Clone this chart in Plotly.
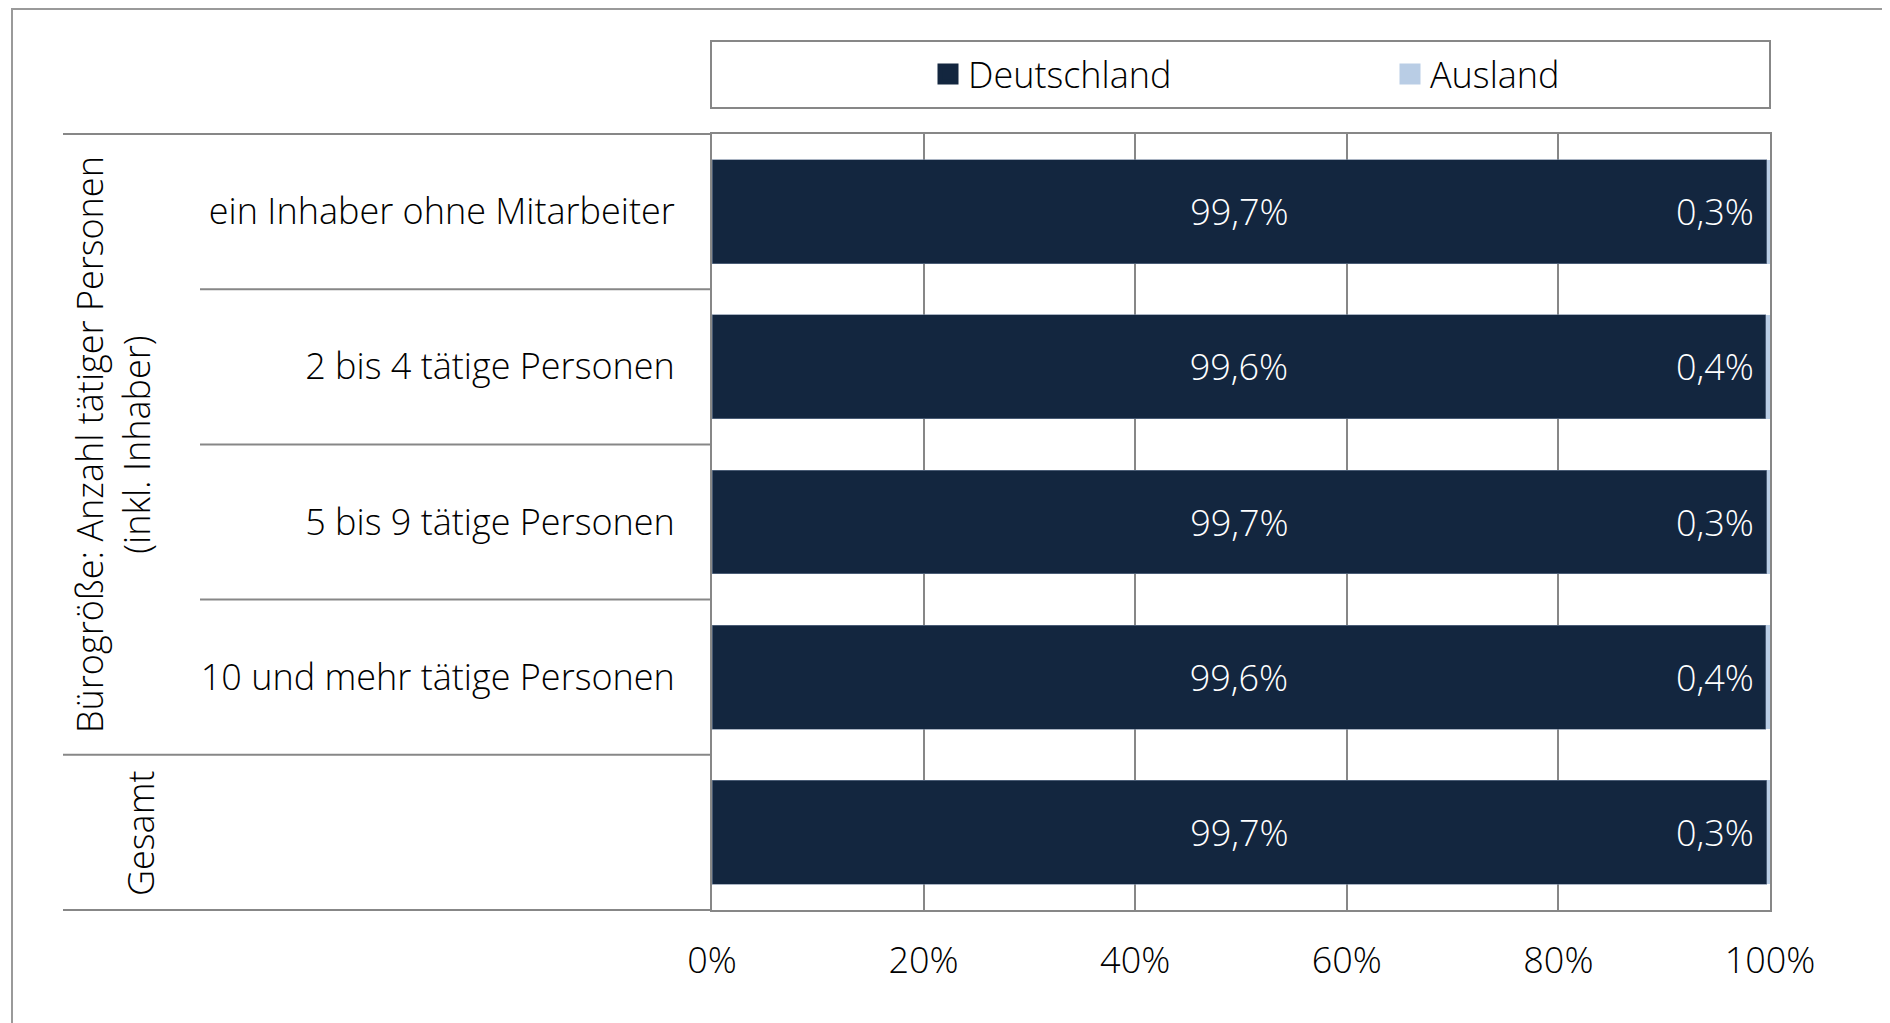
import plotly.graph_objects as go

# data
categories = ["ein Inhaber ohne Mitarbeiter", "2 bis 4 tätige Personen", "5 bis 9 tätige Personen",
              "10 und mehr tätige Personen", "Gesamt"]
tick_labels = ["ein Inhaber ohne Mitarbeiter", "2 bis 4 tätige Personen", "5 bis 9 tätige Personen",
               "10 und mehr tätige Personen", ""]
deutschland = [99.7, 99.6, 99.7, 99.6, 99.7]
ausland = [0.3, 0.4, 0.3, 0.4, 0.3]
x_ticks = [0, 20, 40, 60, 80, 100]
x_tick_labels = ["0%", "20%", "40%", "60%", "80%", "100%"]
group_labels = ["Bürogröße: Anzahl tätiger Personen<br>(inkl. Inhaber)", "Gesamt"]

W, H = 1890, 1023
# page has an 8px body margin, so everything is placed 8px up/left
L, R, T, B = 704, 1762, 126, 902
DARK = "#13263F"
LIGHT = "#B9CDE5"
GRID = "#878787"
FONT = "Open Sans"
FS = 36


def px(x):
    return (x - L) / (R - L)


def py(y):
    return (B - y) / (B - T)


def tf(color="black"):
    return dict(color=color, size=FS, family=FONT, weight=300)


fig = go.Figure()

fig.add_trace(go.Bar(
    y=categories, x=deutschland, orientation="h", name="Deutschland",
    marker=dict(color=DARK, line=dict(color="#6f819a", width=0.6)),
    texttemplate="%{x:.1f}%", textposition="inside", insidetextanchor="middle",
    textfont=tf("white"), showlegend=False,
))
fig.add_trace(go.Bar(
    y=categories, x=ausland, orientation="h", name="Ausland",
    marker=dict(color=LIGHT, line=dict(width=0)),
    showlegend=False,
))

# legend entries
for name, col in [("Deutschland", DARK), ("Ausland", LIGHT)]:
    fig.add_trace(go.Scatter(
        x=[None], y=[None], mode="markers", name=name,
        marker=dict(symbol="square", size=16, color=col, line=dict(color=col, width=5)),
    ))

# Ausland value labels at the right end
for cat, v in zip(categories, ausland):
    fig.add_annotation(
        x=100, y=cat, xref="x", yref="y", text=f"{v:.1f}%".replace(".", ","),
        showarrow=False, xanchor="right", xshift=-14, font=tf("white"),
    )

# group labels on the left
fig.add_annotation(x=px(105), y=py(437), xref="paper", yref="paper", text=group_labels[0],
                   textangle=-90, showarrow=False, xanchor="center", yanchor="middle", font=tf())
fig.add_annotation(x=px(132), y=py(825), xref="paper", yref="paper", text=group_labels[1],
                   textangle=-90, showarrow=False, xanchor="center", yanchor="middle", font=tf())

line = dict(color=GRID, width=2)
shapes = [
    # outer frame
    dict(type="rect", xref="paper", yref="paper", x0=px(4), x1=px(1878), y0=py(1), y1=py(1040),
         line=dict(color="#9a9a9a", width=2)),
    # legend box
    dict(type="rect", xref="paper", yref="paper", x0=px(703), x1=px(1762), y0=py(33), y1=py(100),
         line=line),
    # table lines on the left
    dict(type="line", xref="paper", yref="paper", x0=px(55), x1=0, y0=1, y1=1, line=line),
    dict(type="line", xref="paper", yref="paper", x0=px(55), x1=0, y0=0, y1=0, line=line),
    dict(type="line", xref="paper", yref="y", x0=px(55), x1=0, y0=3.5, y1=3.5, line=line),
]
for yb in [0.5, 1.5, 2.5]:
    shapes.append(dict(type="line", xref="paper", yref="y", x0=px(192), x1=0, y0=yb, y1=yb, line=line))

fig.update_layout(
    width=W, height=H, autosize=False,
    margin=dict(l=L, r=W - R, t=T, b=H - B, pad=0),
    paper_bgcolor="white", plot_bgcolor="white",
    barmode="stack", bargap=0.33,
    separators=",.",
    font=tf(),
    shapes=shapes,
    legend=dict(
        orientation="h", traceorder="normal", xref="container", yref="container",
        x=920 / W, y=1 - 66 / H, xanchor="left", yanchor="middle",
        entrywidth=417, bgcolor="rgba(0,0,0,0)", font=tf(),
    ),
    xaxis=dict(
        range=[0, 100], tickvals=x_ticks, ticktext=x_tick_labels,
        showgrid=True, gridcolor=GRID, gridwidth=2,
        zeroline=False, showline=True, mirror=True, linecolor=GRID, linewidth=2,
        ticks="", ticklabelstandoff=18, tickfont=tf(),
    ),
    yaxis=dict(
        categoryorder="array", categoryarray=categories, autorange="reversed",
        tickvals=categories, ticktext=tick_labels,
        showgrid=False, zeroline=False, showline=True, mirror=True, linecolor=GRID, linewidth=2,
        ticks="", ticklabelstandoff=28, tickfont=tf(),
    ),
)

fig.write_html("out.html")
